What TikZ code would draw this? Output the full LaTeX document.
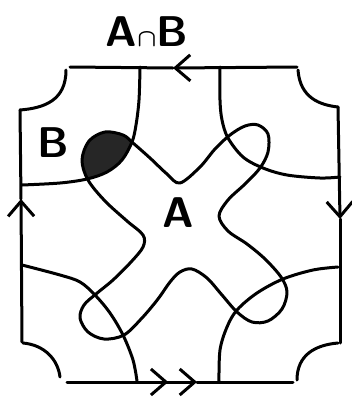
\documentclass[tikz,border=0pt]{standalone}
\usepackage{amsmath,amssymb}
\usepackage{tikz}
\usetikzlibrary{arrows.meta}
\usepackage{xcolor}

% outline of the X-shaped set A (pixel units)
\newcommand{\shapeA}{plot[smooth cycle,tension=0.55] coordinates {
 (180,183) (200,167) (215,149) (230,135) (245,126) (258,125) (268,134)
 (268,152) (260,168) (245,184) (228,200) (219,216) (228,231) (247,244)
 (265,259) (281,277) (287,292) (282,309) (268,321) (252,322) (237,312)
 (222,295) (207,278) (192,269) (180,272) (170,282) (158,299) (142,318)
 (124,335) (104,339) (88,332) (80,318) (84,305) (96,294) (113,280)
 (131,262) (143,247) (143,235) (127,221) (105,201) (88,180) (82,160)
 (89,141) (105,132) (123,135) (133,143) (150,158) (167,174)}}

\begin{document}
\begin{tikzpicture}[x=1pt,y=-1pt,line width=3pt,line cap=round,line join=round,
  barb/.style={-{Straight Barb[length=15pt,width=26pt]}},
  dblbarb/.style={-{Straight Barb[length=15pt,width=26pt,sep=10pt]Straight Barb[length=15pt,width=26pt]}},
  lbl/.style={font=\fontsize{43}{46}\selectfont\sffamily\bfseries,inner sep=0pt}]
\useasboundingbox (0,0) rectangle (352,400);
% shaded part of A inside B
\begin{scope}
\clip plot[smooth,tension=0.55] coordinates {(140,67) (139,100) (136,125) (132,142) (122,160) (107,172) (87,179) (60,183) (22,185)}
  -- (0,185) -- (0,0) -- (140,0) -- cycle;
\fill[black!85] \shapeA;
\end{scope}
% square with its corners cut
\draw[barb] (297,67) -- (173,68);
\draw (173,68) -- (70,67);
\draw[barb] (338,107) -- (340,219);
\draw (340,219) -- (340,343);
\draw[dblbarb] (67,382) -- (197,382);
\draw (197,382) -- (293,382);
\draw[barb] (22,342) -- (21,199);
\draw (21,199) -- (20,110);
\draw (66,70) .. controls (66,100) and (45,108) .. (20,110);
\draw (298,70) .. controls (300,98) and (320,105) .. (338,107);
\draw (23,343) .. controls (45,345) and (58,360) .. (60,377);
\draw (297,380) .. controls (297,355) and (315,345) .. (338,343);
% the set B
\draw plot[smooth,tension=0.55] coordinates {(140,67) (139,100) (136,125) (132,142) (122,160) (107,172) (87,179) (60,183) (22,185)};
\draw plot[smooth,tension=0.55] coordinates {(220,67) (220,100) (222,120) (228,138) (243,157) (263,168) (287,175) (320,178) (340,177)};
\draw plot[smooth,tension=0.55] coordinates {(22,265) (60,275) (80,282) (95,295) (110,313) (123,335) (133,360) (137,381)};
\draw plot[smooth,tension=0.55] coordinates {(338,267) (313,270) (283,279) (257,293) (237,310) (227,327) (220,350) (219,381)};
% the set A
\draw \shapeA;
% labels
\node[lbl] (lblAB) at (147,32) {A$\boldsymbol{\cap}$B};
\node[lbl] (lblB) at (53,143) {B};
\node[lbl] (lblA) at (178,213) {A};
\end{tikzpicture}
\end{document}
